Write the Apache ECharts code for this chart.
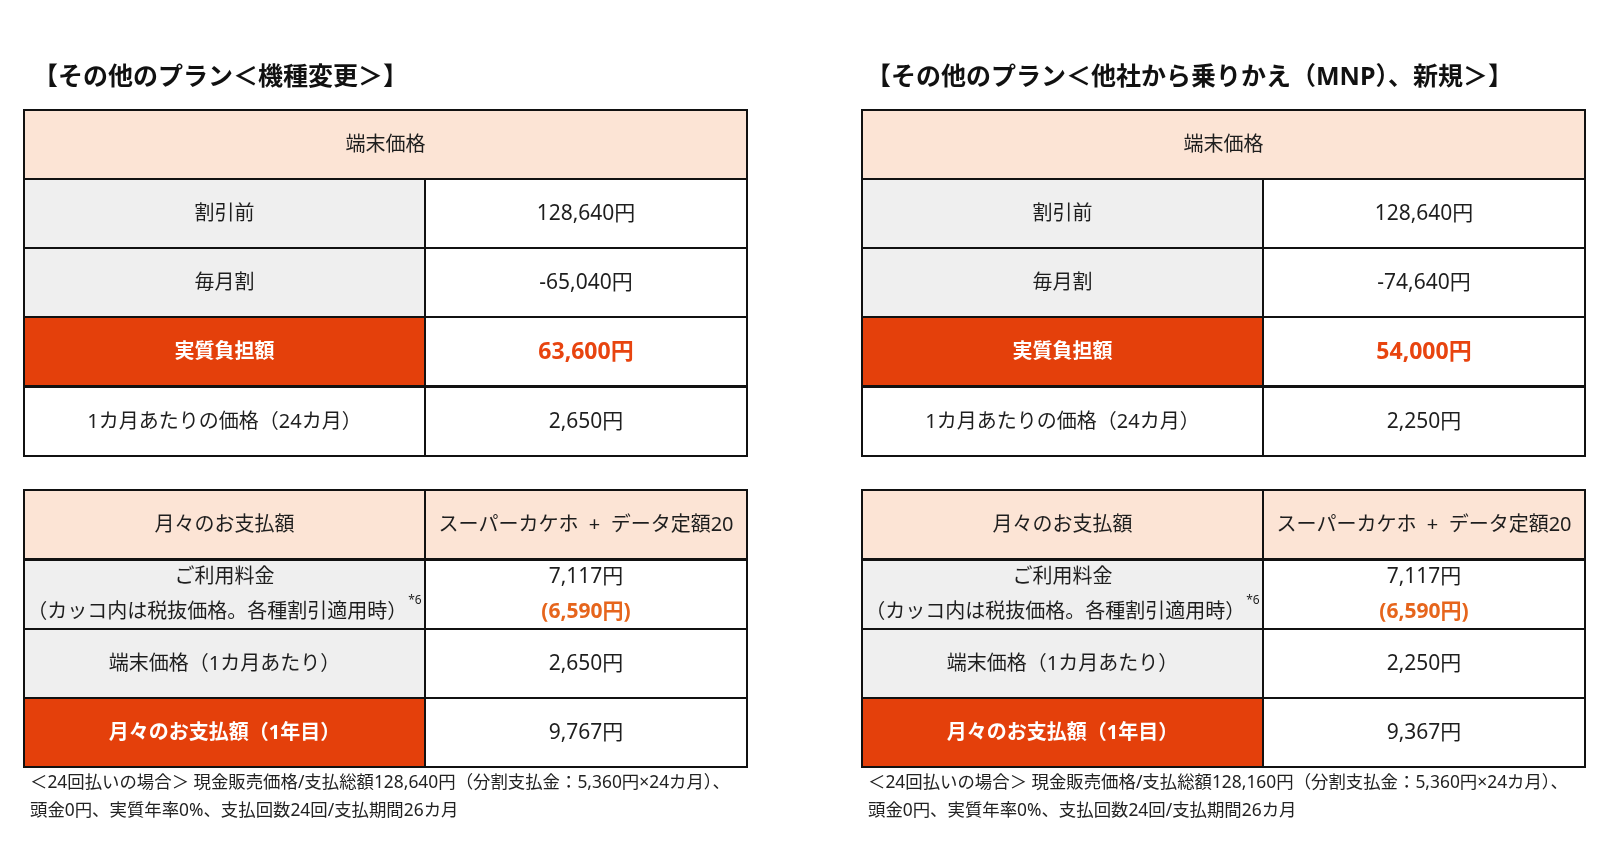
<!DOCTYPE html>
<html><head><meta charset="utf-8">
<script src="https://cdn.jsdelivr.net/npm/echarts@6/dist/echarts.min.js"></script>
<style>html,body{margin:0;padding:0;background:#fff}#c{width:1600px;height:857px}</style>
</head><body><div id="c"></div>
<script>
// ---- data ----
const panelTitles = ['【その他のプラン＜機種変更＞】', '【その他のプラン＜他社から乗りかえ（MNP）、新規＞】'];
const priceHeader = '端末価格';
const priceLabels = ['割引前', '毎月割', '実質負担額', '1カ月あたりの価格（24カ月）'];
const priceValuesChange = ['128,640円', '-65,040円', '63,600円', '2,650円'];
const priceValuesMNP = ['128,640円', '-74,640円', '54,000円', '2,250円'];
const monthlyHeader = ['月々のお支払額', 'スーパーカケホ  +  データ定額20'];
const monthlyLabels = ['ご利用料金', '端末価格（1カ月あたり）', '月々のお支払額（1年目）'];
const feeNote = '（カッコ内は税抜価格。各種割引適用時）';
const feeNoteMark = '*6';
const monthlyValuesChange = ['7,117円', '2,650円', '9,767円'];
const monthlyValuesMNP = ['7,117円', '2,250円', '9,367円'];
const feeExclTax = '(6,590円)';
const footnotesChange = ['＜24回払いの場合＞ 現金販売価格/支払総額128,640円（分割支払金：5,360円×24カ月）、', '頭金0円、実質年率0%、支払回数24回/支払期間26カ月'];
const footnotesMNP = ['＜24回払いの場合＞ 現金販売価格/支払総額128,160円（分割支払金：5,360円×24カ月）、', '頭金0円、実質年率0%、支払回数24回/支払期間26カ月'];

// ---- layout / style ----
const FONT = '"Noto Sans", "Noto Sans CJK JP", sans-serif';
const COLS = [0, 0.554, 1];
const TEXT = '#1e1e1e';
const STYLES = {
  header: { fill: '#FCE4D5' },
  gray: { fill: '#EFEFEF' },
  white: { fill: '#FFFFFF' },
  red: { fill: '#E4400B' },
  emph: { fill: '#FFFFFF' }
};
const RICH = {
  n: { fontSize: 20, fontFamily: FONT, fill: TEXT, lineHeight: 35 },
  v: { fontSize: 21, fontFamily: FONT, fill: TEXT, lineHeight: 35 },
  w: { fontSize: 20, fontFamily: FONT, fill: '#FFFFFF', fontWeight: 'bold', lineHeight: 35 },
  e: { fontSize: 23, fontFamily: FONT, fill: '#E8440F', fontWeight: 'bold', lineHeight: 35 },
  o: { fontSize: 21, fontFamily: FONT, fill: '#E6651C', fontWeight: 'bold', lineHeight: 35 },
  sup: { fontSize: 12, fontFamily: FONT, fill: TEXT, lineHeight: 22, verticalAlign: 'top', padding: [0, 0, 0, 1] }
};

function buildCells(priceValues, monthlyValues) {
  const cells = [];
  cells.push({ v: [COLS[0], COLS[2], 0, 1], kind: 'header', text: '{n|' + priceHeader + '}' });
  const kindsL = ['gray', 'gray', 'red', 'white'];
  const kindsR = ['white', 'white', 'emph', 'white'];
  priceLabels.forEach((lab, i) => {
    cells.push({ v: [COLS[0], COLS[1], i + 1, i + 2], kind: kindsL[i], text: (kindsL[i] === 'red' ? '{w|' : '{n|') + lab + '}' });
    cells.push({ v: [COLS[1], COLS[2], i + 1, i + 2], kind: kindsR[i], text: (kindsR[i] === 'emph' ? '{e|' : '{v|') + priceValues[i] + '}' });
  });
  const b = 5.5;
  cells.push({ v: [COLS[0], COLS[1], b, b + 1], kind: 'header', text: '{n|' + monthlyHeader[0] + '}' });
  cells.push({ v: [COLS[1], COLS[2], b, b + 1], kind: 'header', text: '{n|' + monthlyHeader[1] + '}' });
  const mKindsL = ['gray', 'gray', 'red'];
  monthlyLabels.forEach((lab, i) => {
    const y0 = b + 1 + i;
    let lt = (mKindsL[i] === 'red' ? '{w|' : '{n|') + lab + '}';
    let rt = '{v|' + monthlyValues[i] + '}';
    if (i === 0) {
      lt += '\n{n|' + feeNote + '}{sup|' + feeNoteMark + '}';
      rt += '\n{o|' + feeExclTax + '}';
    }
    cells.push({ v: [COLS[0], COLS[1], y0, y0 + 1], kind: mKindsL[i], text: lt, multi: i === 0 });
    cells.push({ v: [COLS[1], COLS[2], y0, y0 + 1], kind: 'white', text: rt, multi: i === 0 });
  });
  return cells;
}

function makeRender(cells) {
  return function (params, api) {
    const c = cells[params.dataIndex];
    const p0 = api.coord([api.value(0), api.value(2)]);
    const p1 = api.coord([api.value(1), api.value(3)]);
    const x = Math.round(Math.min(p0[0], p1[0])), y = Math.round(Math.min(p0[1], p1[1]));
    const w = Math.round(Math.abs(p1[0] - p0[0])), h = Math.round(Math.abs(p1[1] - p0[1]));
    return {
      type: 'group',
      children: [
        { type: 'rect', shape: { x: x, y: y, width: w, height: h }, style: { fill: STYLES[c.kind].fill, stroke: '#111', lineWidth: 2 } },
        { type: 'text', x: x + w / 2, y: y + h / 2 + (c.multi ? 0 : 1), style: { text: c.text, rich: RICH, align: 'center', verticalAlign: 'middle', fontFamily: FONT } }
      ]
    };
  };
}

const panels = [
  { cells: buildCells(priceValuesChange, monthlyValuesChange), left: 24, notes: footnotesChange, titleX: 33 },
  { cells: buildCells(priceValuesMNP, monthlyValuesMNP), left: 862, notes: footnotesMNP, titleX: 866 }
];

const grids = [], xAxes = [], yAxes = [], series = [], graphics = [];
panels.forEach((p, k) => {
  grids.push({ left: p.left, top: 110, width: 723, height: 657 });
  xAxes.push({ type: 'value', gridIndex: k, min: 0, max: 1, show: false });
  yAxes.push({ type: 'value', gridIndex: k, min: 0, max: 9.5, inverse: true, show: false });
  series.push({
    type: 'custom', xAxisIndex: k, yAxisIndex: k,
    data: p.cells.map(c => c.v),
    encode: { x: [0, 1], y: [2, 3] },
    renderItem: makeRender(p.cells),
    silent: true, animation: false
  });
  graphics.push({ type: 'text', x: p.titleX, y: 78, style: { text: panelTitles[k], fontSize: 25, fontWeight: 'bold', fontFamily: FONT, fill: '#111', verticalAlign: 'middle' } });
  p.notes.forEach((t, j) => {
    graphics.push({ type: 'text', x: p.left + 6, y: 783 + j * 28, style: { text: t, fontSize: 17.4, fontFamily: FONT, fill: '#222', verticalAlign: 'middle' } });
  });
});

const chart = echarts.init(document.getElementById('c'), null, { renderer: 'canvas' });
chart.setOption({
  animation: false,
  backgroundColor: '#fff',
  grid: grids, xAxis: xAxes, yAxis: yAxes, series: series, graphic: graphics
});
</script></body></html>
